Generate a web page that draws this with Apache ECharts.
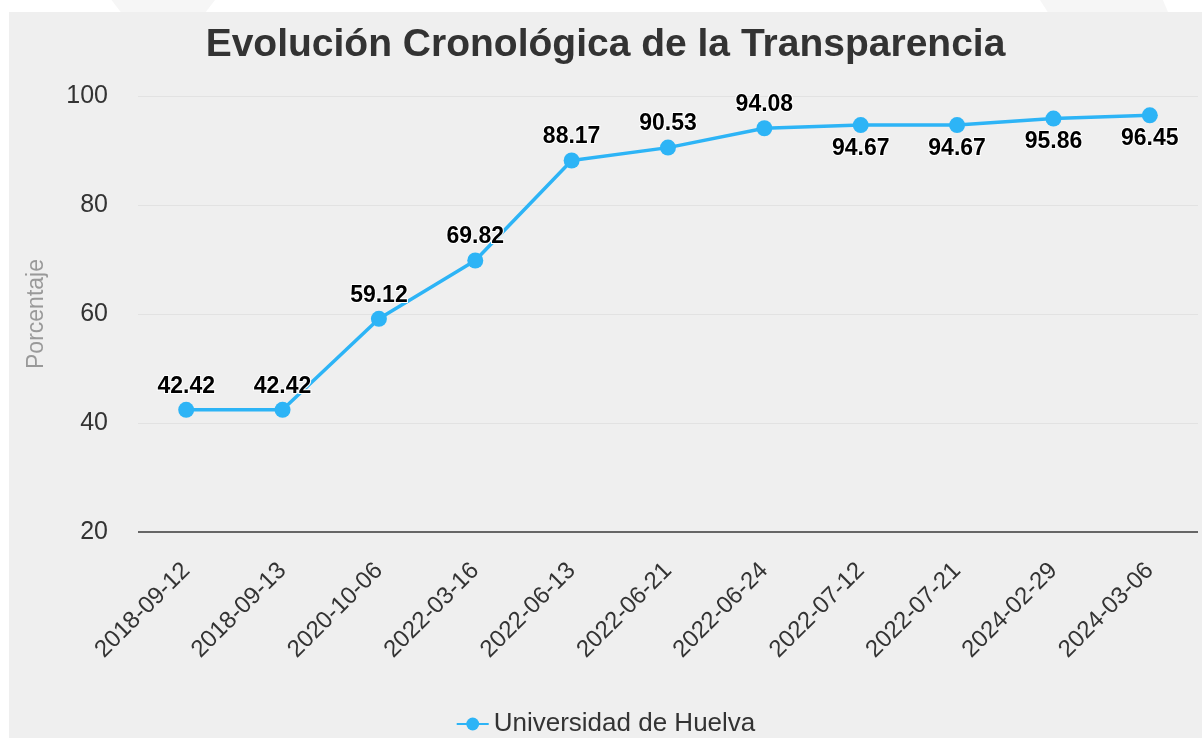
<!DOCTYPE html>
<html>
<head>
<meta charset="utf-8">
<script src="https://cdn.jsdelivr.net/npm/echarts@6/dist/echarts.min.js"></script>
<style>
  html, body { margin: 0; padding: 0; background: #fff; }
  .page { position: relative; width: 1202px; height: 738px; overflow: hidden; background: #fff; }
  .deco { position: absolute; top: 0; height: 12px; background: #f6f6f6; }
  .deco.left { left: 100px; width: 115px; clip-path: polygon(10% 0, 100% 0, 92% 100%, 18% 100%); }
  .deco.right { left: 1040px; width: 128px; clip-path: polygon(0 0, 96% 0, 100% 100%, 6% 100%); }
  .chart { position: absolute; left: 9px; top: 12px; width: 1193px; height: 726px; background: #efefef; }
</style>
</head>
<body>
<div class="page">
  <div class="deco left"></div>
  <div class="deco right"></div>
  <div id="main" class="chart"></div>
</div>
<script>
const fechas = ['2018-09-12', '2018-09-13', '2020-10-06', '2022-03-16', '2022-06-13', '2022-06-21',
  '2022-06-24', '2022-07-12', '2022-07-21', '2024-02-29', '2024-03-06']
const valores = [42.42, 42.42, 59.12, 69.82, 88.17, 90.53, 94.08, 94.67, 94.67, 95.86, 96.45]
// etiquetas que van por debajo del punto
const debajo = ['2022-07-12', '2022-07-21', '2024-02-29', '2024-03-06']
const yTicks = [20, 40, 60, 80, 100]

const azul = '#2db4f6'
const fuente = 'Liberation Sans'
const chart = echarts.init(document.getElementById('main'))

const data = valores.map((v, i) => ({
  value: v,
  label: { position: debajo.includes(fechas[i]) ? 'bottom' : 'top' }
}))

const option = {
  animation: false,
  title: {
    text: 'Evolución Cronológica de la Transparencia',
    left: 'center',
    top: 9,
    textStyle: { fontSize: 39, fontWeight: 'bold', color: '#333', fontFamily: fuente }
  },
  legend: {
    top: 694,
    left: 'center',
    itemWidth: 32,
    itemHeight: 16,
    itemGap: 10,
    textStyle: { fontSize: 26, color: '#333', fontFamily: fuente }
  },
  grid: { left: 129, right: 4, top: 84, bottom: 206 },
  xAxis: {
    type: 'category',
    data: fechas,
    axisLine: { show: false },
    axisTick: { show: false },
    axisLabel: { rotate: 45, fontSize: 24, color: '#333', margin: 35, fontFamily: fuente, interval: 0 }
  },
  yAxis: {
    type: 'value',
    min: yTicks[0],
    max: yTicks[yTicks.length - 1],
    interval: 20,
    name: 'Porcentaje',
    nameLocation: 'middle',
    nameGap: 90,
    nameTextStyle: { fontSize: 23, color: '#999', fontFamily: fuente },
    axisLabel: { fontSize: 25, color: '#333', margin: 30, fontFamily: fuente },
    splitLine: { lineStyle: { color: '#e2e2e2', width: 1 } }
  },
  series: [{
    name: 'Universidad de Huelva',
    type: 'line',
    data,
    color: azul,
    symbol: 'circle',
    symbolSize: 16,
    lineStyle: { width: 3.5 },
    label: {
      show: true,
      fontSize: 23,
      fontWeight: 'bold',
      color: '#000',
      distance: 4,
      textBorderColor: '#fff',
      textBorderWidth: 2,
      fontFamily: fuente
    },
    markLine: {
      silent: true,
      symbol: 'none',
      label: { show: false },
      lineStyle: { color: '#666', width: 2, type: 'solid' },
      data: [{ yAxis: yTicks[0] }]
    }
  }]
}
chart.setOption(option)
</script>
</body>
</html>
